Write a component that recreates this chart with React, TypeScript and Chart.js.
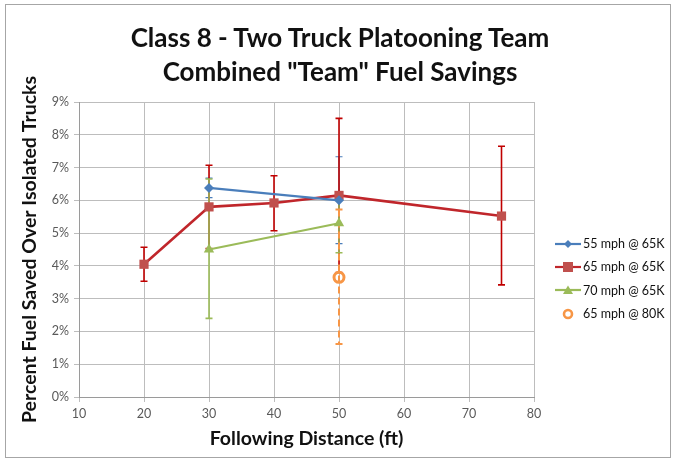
import React, { useEffect, useRef } from 'react';
import { Chart, registerables } from 'chart.js';
Chart.register(...registerables);

const titleLines = ['Class 8 - Two Truck Platooning Team', 'Combined "Team" Fuel Savings'];
const xAxisTitle = 'Following Distance (ft)';
const yAxisTitle = 'Percent Fuel Saved Over Isolated Trucks';
const xMin = 10, xMax = 80, xStep = 10;
const yMin = 0, yMax = 9, yStep = 1;

// 55 mph @ 65K
const s55Label = '55 mph @ 65K';
const s55X = [30, 50];
const s55Y = [6.38, 6.0];
const s55Hi = [6.68, 7.33];
const s55Lo = [6.08, 4.68];

// 65 mph @ 65K
const s65Label = '65 mph @ 65K';
const s65X = [20, 30, 40, 50, 75];
const s65Y = [4.05, 5.8, 5.92, 6.15, 5.52];
const s65Hi = [4.57, 7.07, 6.75, 8.5, 7.65];
const s65Lo = [3.53, 4.53, 5.07, 3.8, 3.42];

// 70 mph @ 65K
const s70Label = '70 mph @ 65K';
const s70X = [30, 50];
const s70Y = [4.5, 5.3];
const s70Hi = [6.65, 6.2];
const s70Lo = [2.4, 4.4];

// 65 mph @ 80K
const s80Label = '65 mph @ 80K';
const s80X = [50];
const s80Y = [3.65];
const s80Hi = [5.72];
const s80Lo = [1.62];

const FONT = 'Lato, "Open Sans", sans-serif';

const blue = '#4a7ebb';
const redLine = '#c0262b';
const redMarker = '#c0504d';
const redErr = '#c00000';
const green = '#9bbb59';
const orange = '#f79646';

const pts = (xs: number[], ys: number[]) => xs.map((x, i) => ({ x, y: ys[i] }));

const errorBarPlugin = {
  id: 'errorBars',
  beforeDatasetsDraw(chart: any) {
    const { ctx } = chart;
    const xs = chart.scales.x;
    const ys = chart.scales.y;
    chart.data.datasets.forEach((ds: any) => {
      if (!ds.errHi) return;
      ctx.save();
      ctx.strokeStyle = ds.errColor;
      ctx.lineWidth = ds.errWidth || 1.5;
      if (ds.errDash) ctx.setLineDash(ds.errDash);
      ds.data.forEach((p: any, i: number) => {
        const px = xs.getPixelForValue(p.x);
        const hi = ys.getPixelForValue(ds.errHi[i]);
        const lo = ys.getPixelForValue(ds.errLo[i]);
        ctx.beginPath();
        ctx.moveTo(px, hi);
        ctx.lineTo(px, lo);
        ctx.stroke();
        ctx.setLineDash([]);
        ctx.beginPath();
        ctx.moveTo(px - 3.5, hi);
        ctx.lineTo(px + 3.5, hi);
        ctx.moveTo(px - 3.5, lo);
        ctx.lineTo(px + 3.5, lo);
        ctx.stroke();
        if (ds.errDash) ctx.setLineDash(ds.errDash);
      });
      ctx.restore();
    });
  },
};

const legendItems = [
  { label: s55Label, color: blue, marker: 'diamond', line: true },
  { label: s65Label, color: redLine, fill: redMarker, marker: 'square', line: true },
  { label: s70Label, color: green, marker: 'triangle', line: true },
  { label: s80Label, color: orange, marker: 'circle', line: false },
];

function Marker({ kind, color, fill }: any) {
  const c = fill || color;
  if (kind === 'diamond') return <polygon points="13,2 17,6 13,10 9,6" fill={c} />;
  if (kind === 'square') return <rect x={8} y={1} width={10} height={10} fill={c} />;
  if (kind === 'triangle') return <polygon points="13,1.5 18,10 8,10" fill={c} />;
  return <circle cx={13} cy={6} r={4} fill="none" stroke={c} strokeWidth={2.6} />;
}

export default function App() {
  const ref = useRef<HTMLCanvasElement>(null);
  useEffect(() => {
    document.body.style.margin = '0';
    const chart = new Chart(ref.current!, {
      type: 'scatter',
      data: {
        datasets: [
          {
            label: s55Label,
            data: pts(s55X, s55Y),
            showLine: true,
            borderColor: blue,
            backgroundColor: blue,
            borderWidth: 2.2,
            pointStyle: 'rectRot',
            pointRadius: 5,
            pointBorderWidth: 0,
            errHi: s55Hi, errLo: s55Lo, errColor: blue, errWidth: 1.2,
          } as any,
          {
            label: s65Label,
            data: pts(s65X, s65Y),
            showLine: true,
            borderColor: redLine,
            backgroundColor: redMarker,
            borderWidth: 2.6,
            pointStyle: 'rect',
            pointRadius: 6.5,
            pointBorderWidth: 0,
            errHi: s65Hi, errLo: s65Lo, errColor: redErr, errWidth: 1.6,
          } as any,
          {
            label: s70Label,
            data: pts(s70X, s70Y),
            showLine: true,
            borderColor: green,
            backgroundColor: green,
            borderWidth: 2.2,
            pointStyle: 'triangle',
            pointRadius: 6,
            pointBorderWidth: 0,
            errHi: s70Hi, errLo: s70Lo, errColor: green, errWidth: 1.6,
          } as any,
          {
            label: s80Label,
            data: pts(s80X, s80Y),
            showLine: false,
            borderColor: orange,
            backgroundColor: 'rgba(0,0,0,0)',
            pointStyle: 'circle',
            pointRadius: 5,
            pointBorderWidth: 3,
            errHi: s80Hi, errLo: s80Lo, errColor: orange, errWidth: 2, errDash: [7, 4],
          } as any,
        ],
      },
      options: {
        animation: false,
        responsive: false,
        layout: { padding: { left: 8, right: 141, top: 102, bottom: 10 } },
        plugins: { legend: { display: false }, tooltip: { enabled: false }, title: { display: false } },
        scales: {
          x: {
            type: 'linear',
            min: xMin,
            max: xMax,
            ticks: { stepSize: xStep, color: '#595959', font: { size: 12.5, family: FONT }, padding: 4 },
            grid: { color: '#bdbdbd', tickLength: 5, lineWidth: 1 },
            border: { color: '#9a9a9a' },
            title: { display: true, text: xAxisTitle, color: '#111', font: { size: 19.5, weight: 'bold', family: FONT }, padding: { top: 0, bottom: 1 } },
            afterFit: (s: any) => { s.height = 54; },
          },
          y: {
            type: 'linear',
            min: yMin,
            max: yMax,
            ticks: { stepSize: yStep, color: '#595959', font: { size: 12.5, family: FONT }, padding: 5, callback: (v: any) => v + '%' },
            grid: { color: '#bdbdbd', tickLength: 5, lineWidth: 1 },
            border: { color: '#9a9a9a' },
            title: { display: true, text: yAxisTitle, color: '#111', font: { size: 19.5, weight: 'bold', family: FONT }, padding: { top: 10, bottom: 0 } },
            afterFit: (s: any) => { s.width = 71; },
          },
        },
      } as any,
      plugins: [errorBarPlugin],
    });
    return () => chart.destroy();
  }, []);

  return (
    <div style={{ position: 'relative', width: 675, height: 461, background: '#fff', overflow: 'hidden' }}>
      <canvas ref={ref} width={675} height={461} style={{ position: 'absolute', left: 0, top: 0 }} />
      <div style={{ position: 'absolute', left: 5, top: 4, width: 664, height: 452, border: '1px solid #a6a6a6', pointerEvents: 'none' }} />
      <div style={{ position: 'absolute', left: 0, top: 20, width: 680, textAlign: 'center', fontFamily: FONT, fontWeight: 'bold', fontSize: 26, lineHeight: '34px', color: '#111' }}>
        {titleLines.map((t) => <div key={t}>{t}</div>)}
      </div>
      <div style={{ position: 'absolute', left: 555, top: 232, fontFamily: FONT, fontSize: 12.5, color: '#111' }}>
        {legendItems.map((it) => (
          <div key={it.label} style={{ display: 'flex', alignItems: 'center', height: 23.3 }}>
            <svg width={26} height={12} style={{ marginRight: 2 }}>
              {it.line && <line x1={0} y1={6} x2={26} y2={6} stroke={it.color} strokeWidth={2.2} />}
              <Marker kind={it.marker} color={it.color} fill={(it as any).fill} />
            </svg>
            <span>{it.label}</span>
          </div>
        ))}
      </div>
    </div>
  );
}
